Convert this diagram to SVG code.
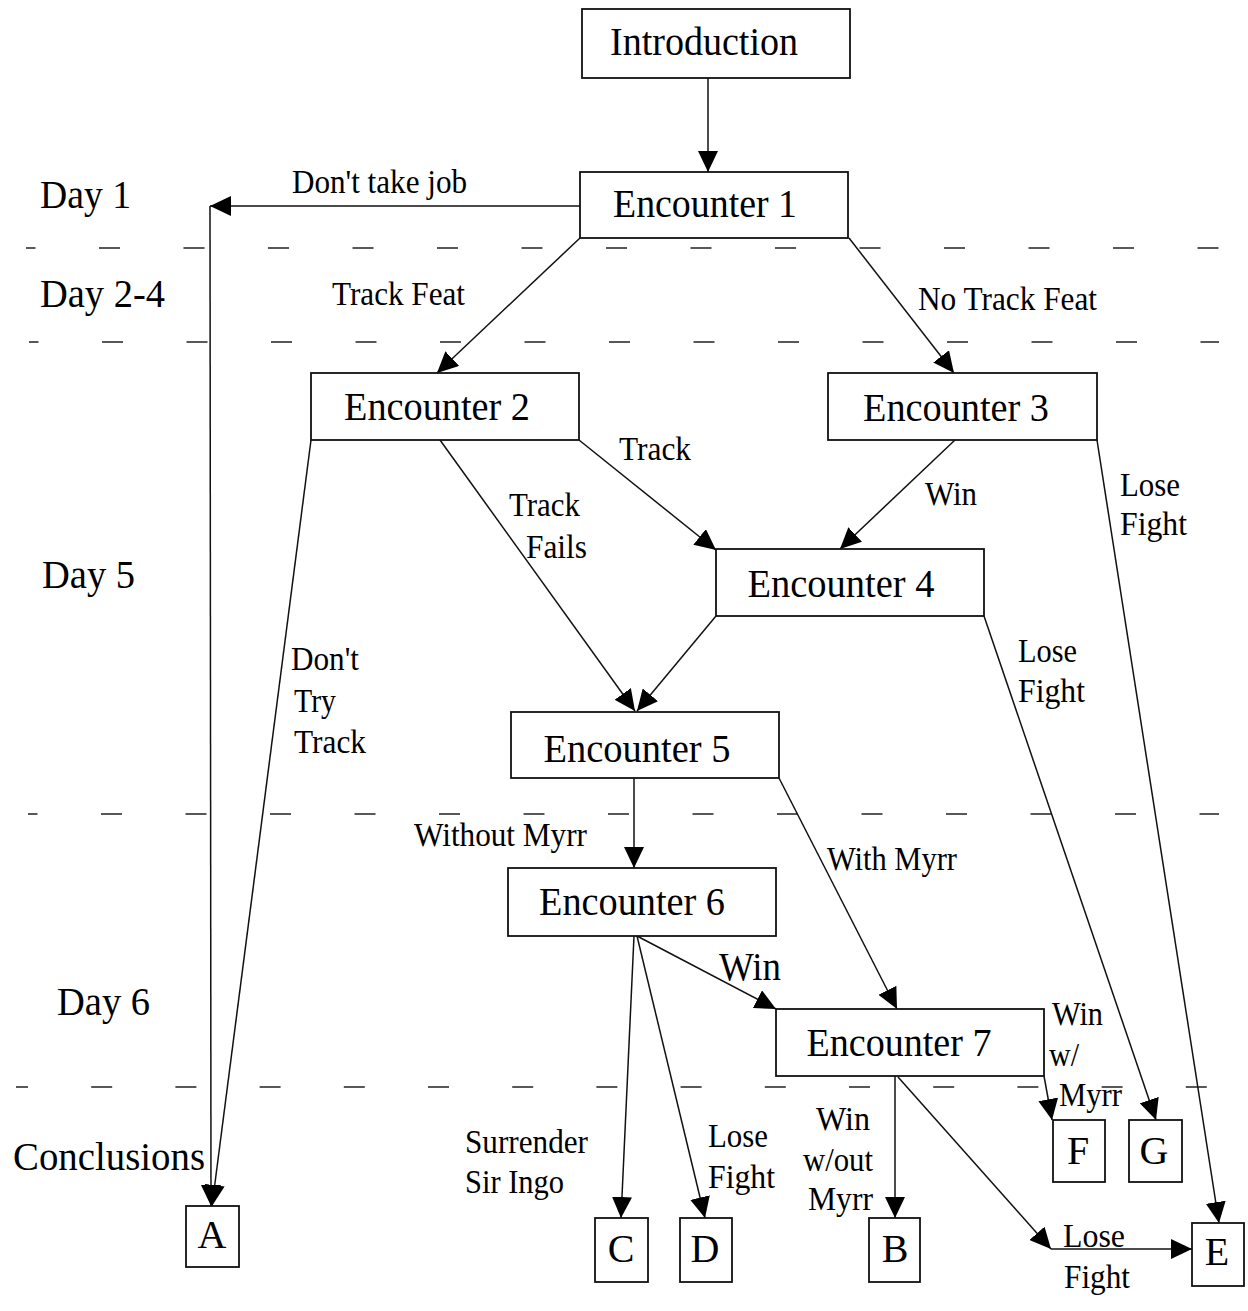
<svg xmlns="http://www.w3.org/2000/svg" width="1248" height="1311" viewBox="0 0 1248 1311" font-family="'Liberation Serif', 'DejaVu Serif', serif">
<style>
text{font-family:'Liberation Serif','DejaVu Serif',serif;fill:#000}
.box{fill:#fff;stroke:#111;stroke-width:1.8}
.bt{font-size:40px;text-anchor:middle}
.lt{font-size:40px;text-anchor:middle}
.day{font-size:39px}
.lb{font-size:33px}
.c{fill:none;stroke:#111;stroke-width:1.5}
.dash{fill:none;stroke:#222;stroke-width:1.6;stroke-dasharray:21 63.5}
</style>
<defs>
<marker id="ah" viewBox="0 0 21 20" markerWidth="21" markerHeight="20" refX="21" refY="10" orient="auto" markerUnits="userSpaceOnUse">
<path d="M0,0 L21,10 L0,20 z" fill="#000"/>
</marker>
</defs>
<rect width="1248" height="1311" fill="#fff"/>
<g id="lanes">
<line class="dash" x1="26" y1="248" x2="1219" y2="248" stroke-dashoffset="11.5"/>
<line class="dash" x1="29" y1="342" x2="1219" y2="342" stroke-dashoffset="11.5"/>
<line class="dash" x1="28" y1="814" x2="1219" y2="814" stroke-dashoffset="11.5"/>
<line class="dash" x1="16" y1="1087" x2="1219" y2="1087" stroke-dashoffset="9" style="stroke-dasharray:21 63.2"/>
<text class="day" x="40" y="208" textLength="91" lengthAdjust="spacingAndGlyphs">Day 1</text>
<text class="day" x="40" y="307" textLength="125" lengthAdjust="spacingAndGlyphs">Day 2-4</text>
<text class="day" x="42" y="588" textLength="93" lengthAdjust="spacingAndGlyphs">Day 5</text>
<text class="day" x="57" y="1015" textLength="93" lengthAdjust="spacingAndGlyphs">Day 6</text>
<text class="day" x="13" y="1170" textLength="192" lengthAdjust="spacingAndGlyphs">Conclusions</text>
</g>
<g id="connectors">
<line class="c" x1="708" y1="78" x2="708" y2="172" marker-end="url(#ah)"/>
<line class="c" x1="580" y1="206" x2="210" y2="206" marker-end="url(#ah)"/>
<line class="c" x1="210" y1="206" x2="211" y2="1206" marker-end="url(#ah)"/>
<line class="c" x1="311" y1="440" x2="212" y2="1206" marker-end="url(#ah)"/>
<line class="c" x1="580" y1="238" x2="437" y2="373" marker-end="url(#ah)"/>
<line class="c" x1="849" y1="238" x2="954" y2="373" marker-end="url(#ah)"/>
<line class="c" x1="579" y1="440" x2="716" y2="550" marker-end="url(#ah)"/>
<line class="c" x1="440" y1="440" x2="635" y2="711" marker-end="url(#ah)"/>
<line class="c" x1="716" y1="616" x2="637" y2="711" marker-end="url(#ah)"/>
<line class="c" x1="955" y1="440" x2="840" y2="549" marker-end="url(#ah)"/>
<line class="c" x1="1097" y1="440" x2="1219" y2="1223" marker-end="url(#ah)"/>
<line class="c" x1="984" y1="616" x2="1156" y2="1120" marker-end="url(#ah)"/>
<line class="c" x1="634" y1="778" x2="634" y2="868" marker-end="url(#ah)"/>
<line class="c" x1="779" y1="778" x2="897" y2="1009" marker-end="url(#ah)"/>
<line class="c" x1="637" y1="936" x2="776" y2="1009" marker-end="url(#ah)"/>
<line class="c" x1="634" y1="936" x2="621" y2="1218" marker-end="url(#ah)"/>
<line class="c" x1="637" y1="936" x2="705" y2="1218" marker-end="url(#ah)"/>
<line class="c" x1="895" y1="1076" x2="895" y2="1218" marker-end="url(#ah)"/>
<line class="c" x1="1044" y1="1076" x2="1052" y2="1120" marker-end="url(#ah)"/>
<line class="c" x1="898" y1="1077" x2="1051" y2="1249" marker-end="url(#ah)"/>
<line class="c" x1="1051" y1="1249" x2="1192" y2="1249" marker-end="url(#ah)"/>
<g id="labels">
<text class="lb" x="292" y="193" textLength="175" lengthAdjust="spacingAndGlyphs">Don't take job</text>
<text class="lb" x="332" y="305" textLength="133" lengthAdjust="spacingAndGlyphs">Track Feat</text>
<text class="lb" x="918" y="310" textLength="179" lengthAdjust="spacingAndGlyphs">No Track Feat</text>
<text class="lb" x="619" y="460" textLength="72" lengthAdjust="spacingAndGlyphs">Track</text>
<text class="lb" x="509" y="516" textLength="71" lengthAdjust="spacingAndGlyphs">Track</text>
<text class="lb" x="526" y="558" textLength="61" lengthAdjust="spacingAndGlyphs">Fails</text>
<text class="lb" x="291" y="670" textLength="68" lengthAdjust="spacingAndGlyphs">Don't</text>
<text class="lb" x="294" y="712" textLength="42" lengthAdjust="spacingAndGlyphs">Try</text>
<text class="lb" x="294" y="753" textLength="72" lengthAdjust="spacingAndGlyphs">Track</text>
<text class="lb" x="925" y="505" textLength="52" lengthAdjust="spacingAndGlyphs">Win</text>
<text class="lb" x="1120" y="496" textLength="60" lengthAdjust="spacingAndGlyphs">Lose</text>
<text class="lb" x="1120" y="535" textLength="67" lengthAdjust="spacingAndGlyphs">Fight</text>
<text class="lb" x="1018" y="662" textLength="59" lengthAdjust="spacingAndGlyphs">Lose</text>
<text class="lb" x="1018" y="702" textLength="67" lengthAdjust="spacingAndGlyphs">Fight</text>
<text class="lb" x="414" y="846" textLength="173" lengthAdjust="spacingAndGlyphs">Without Myrr</text>
<text class="lb" x="827" y="870" textLength="130" lengthAdjust="spacingAndGlyphs">With Myrr</text>
<text x="719" y="980" style="font-size:40px" textLength="62" lengthAdjust="spacingAndGlyphs">Win</text>
<text class="lb" x="1052" y="1025" textLength="51" lengthAdjust="spacingAndGlyphs">Win</text>
<text class="lb" x="1049" y="1066" textLength="30" lengthAdjust="spacingAndGlyphs">w/</text>
<text class="lb" x="1059" y="1106" textLength="63" lengthAdjust="spacingAndGlyphs">Myrr</text>
<text class="lb" x="465" y="1153" textLength="123" lengthAdjust="spacingAndGlyphs">Surrender</text>
<text class="lb" x="465" y="1193" textLength="99" lengthAdjust="spacingAndGlyphs">Sir Ingo</text>
<text class="lb" x="708" y="1147" textLength="60" lengthAdjust="spacingAndGlyphs">Lose</text>
<text class="lb" x="708" y="1188" textLength="67" lengthAdjust="spacingAndGlyphs">Fight</text>
<text class="lb" x="816" y="1130" textLength="54" lengthAdjust="spacingAndGlyphs">Win</text>
<text class="lb" x="803" y="1171" textLength="70" lengthAdjust="spacingAndGlyphs">w/out</text>
<text class="lb" x="808" y="1210" textLength="65" lengthAdjust="spacingAndGlyphs">Myrr</text>
<text class="lb" x="1063" y="1247" textLength="62" lengthAdjust="spacingAndGlyphs">Lose</text>
<text class="lb" x="1064" y="1288" textLength="66" lengthAdjust="spacingAndGlyphs">Fight</text>
</g>
</g>
<g id="introduction"><rect class="box" x="582" y="9" width="268" height="69"/><text class="bt" x="704" y="55" textLength="188" lengthAdjust="spacingAndGlyphs">Introduction</text></g>
<g id="encounter1"><rect class="box" x="580" y="172" width="268" height="66"/><text class="bt" x="705" y="217" textLength="184" lengthAdjust="spacingAndGlyphs">Encounter 1</text></g>
<g id="encounter2"><rect class="box" x="311" y="373" width="268" height="67"/><text class="bt" x="437" y="420" textLength="186" lengthAdjust="spacingAndGlyphs">Encounter 2</text></g>
<g id="encounter3"><rect class="box" x="828" y="373" width="269" height="67"/><text class="bt" x="956" y="421" textLength="186" lengthAdjust="spacingAndGlyphs">Encounter 3</text></g>
<g id="encounter4"><rect class="box" x="716" y="549" width="268" height="67"/><text class="bt" x="841" y="597" textLength="187" lengthAdjust="spacingAndGlyphs">Encounter 4</text></g>
<g id="encounter5"><rect class="box" x="511" y="712" width="268" height="66"/><text class="bt" x="637" y="762" textLength="187" lengthAdjust="spacingAndGlyphs">Encounter 5</text></g>
<g id="encounter6"><rect class="box" x="508" y="868" width="268" height="68"/><text class="bt" x="632" y="915" textLength="186" lengthAdjust="spacingAndGlyphs">Encounter 6</text></g>
<g id="encounter7"><rect class="box" x="776" y="1009" width="268" height="67"/><text class="bt" x="899" y="1056" textLength="185" lengthAdjust="spacingAndGlyphs">Encounter 7</text></g>
<g id="endA"><rect class="box" x="186" y="1206" width="53" height="61"/><text class="lt" x="212" y="1248">A</text></g>
<g id="endB"><rect class="box" x="869" y="1218" width="51" height="64"/><text class="lt" x="895" y="1262">B</text></g>
<g id="endC"><rect class="box" x="595" y="1218" width="53" height="64"/><text class="lt" x="621" y="1262">C</text></g>
<g id="endD"><rect class="box" x="680" y="1218" width="52" height="64"/><text class="lt" x="705" y="1262">D</text></g>
<g id="endE"><rect class="box" x="1192" y="1223" width="52" height="63"/><text class="lt" x="1217" y="1265">E</text></g>
<g id="endF"><rect class="box" x="1053" y="1120" width="52" height="62"/><text class="lt" x="1078" y="1164">F</text></g>
<g id="endG"><rect class="box" x="1129" y="1120" width="53" height="62"/><text class="lt" x="1154" y="1164">G</text></g>
</svg>
